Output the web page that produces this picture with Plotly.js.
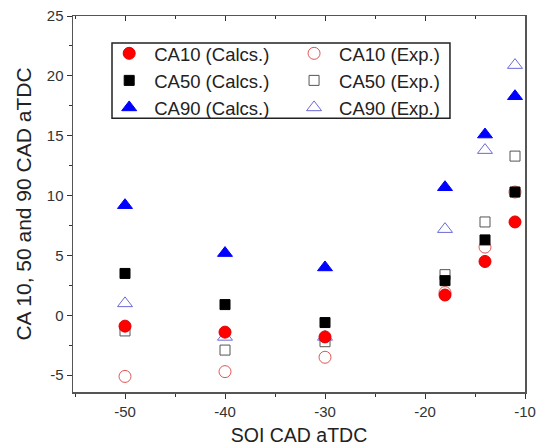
<!DOCTYPE html>
<html>
<head>
<meta charset="utf-8">
<script src="https://cdn.plot.ly/plotly-3.0.1.min.js"></script>
<style>
  html, body { margin: 0; padding: 0; background: #fff; }
  #chart { width: 537px; height: 447px; }
</style>
</head>
<body>
<div id="chart"></div>
<script>
// Start of injection, CAD aTDC
const soi = [-50, -40, -30, -18, -14, -11];

// Calculated combustion phasing
const ca10Calc = [-0.9, -1.4, -1.8, 1.7, 4.5, 7.8];
const ca50Calc = [3.5, 0.9, -0.6, 2.9, 6.3, 10.3];
const ca90Calc = [9.2, 5.2, 4.0, 10.7, 15.1, 18.3];

// Measured combustion phasing
const ca10Exp = [-5.1, -4.7, -3.5, 1.9, 5.7, 10.3];
const ca50Exp = [-1.3, -2.9, -2.2, 3.4, 7.8, 13.3];
const ca90Exp = [1.0, -1.8, -1.8, 7.2, 13.8, 20.9];

const xTicks = [-50, -40, -30, -20, -10];
const yTicks = [-5, 0, 5, 10, 15, 20, 25];

function series(name, y, symbol, color, size, rank, legendId, lineColor) {
  return {
    type: 'scatter', mode: 'markers', name: name,
    x: soi, y: y, legendrank: rank, legend: legendId,
    marker: {
      symbol: symbol, size: size, color: color,
      line: { width: 1, color: lineColor || color }
    }
  };
}

// Measured points first so the calculated ones sit on top.
// Calculated series go in the left legend column, measured in the right.
const traces = [
  series('CA10 (Exp.)', ca10Exp, 'circle-open', '#e05555', 12, 1, 'legend2'),
  series('CA50 (Exp.)', ca50Exp, 'square-open', '#555555', 10, 2, 'legend2'),
  series('CA90 (Exp.)', ca90Exp, 'triangle-up-open', '#6a6ad6', 13, 3, 'legend2'),
  series('CA10 (Calcs.)', ca10Calc, 'circle', '#ff0000', 12, 1, 'legend', '#e00000'),
  series('CA50 (Calcs.)', ca50Calc, 'square', '#000000', 10, 2, 'legend'),
  series('CA90 (Calcs.)', ca90Calc, 'triangle-up', '#0000ff', 13, 3, 'legend')
];

// Invisible trace that carries the inward ticks along the top edge
traces.push({
  type: 'scatter', mode: 'markers', x: [soi[0]], y: [0], xaxis: 'x2',
  marker: { opacity: 0 }, showlegend: false, hoverinfo: 'skip'
});

const axisFont = { family: 'Liberation Sans, Arial, sans-serif', size: 15, color: '#333' };

function legendColumn(x) {
  return {
    orientation: 'v', x: x, y: 0.95, xanchor: 'left', yanchor: 'top',
    bgcolor: 'rgba(0,0,0,0)', borderwidth: 0, itemwidth: 40,
    font: { size: 18.5, color: '#222' }, itemsizing: 'trace'
  };
}

const layout = {
  width: 537, height: 447,
  margin: { l: 73, r: 12, t: 16, b: 55 },
  paper_bgcolor: '#fff', plot_bgcolor: '#fff',
  font: { family: 'Liberation Sans, Arial, sans-serif', color: '#222' },
  showlegend: true,
  legend: legendColumn(0.069),
  legend2: legendColumn(0.478),
  // frame around both legend columns
  shapes: [{
    type: 'rect', xref: 'paper', yref: 'paper',
    x0: 0.0863, x1: 0.834, y0: 0.728, y1: 0.928,
    line: { color: '#222', width: 1.5 }, fillcolor: 'rgba(0,0,0,0)', layer: 'above'
  }],
  xaxis: {
    range: [-55.2, -10], tickvals: xTicks, ticktext: xTicks.map(String),
    ticks: 'outside', ticklen: 5, tickwidth: 1, tickcolor: '#333',
    minor: { dtick: 5, ticks: 'outside', ticklen: 3, tickcolor: '#333' },
    showline: true, linecolor: '#555', linewidth: 1.5, mirror: true,
    showgrid: false, zeroline: false, tickfont: axisFont,
    title: { text: 'SOI CAD aTDC', font: { size: 19.5, color: '#222' }, standoff: 10 }
  },
  xaxis2: {
    overlaying: 'x', side: 'top', matches: 'x', range: [-55.2, -10],
    tickvals: xTicks, showticklabels: false,
    ticks: 'inside', ticklen: 5, tickwidth: 1, tickcolor: '#333',
    minor: { dtick: 5, ticks: 'inside', ticklen: 3, tickcolor: '#333' },
    showgrid: false, zeroline: false, showline: false
  },
  yaxis: {
    range: [-6.4, 25], tickvals: yTicks, ticktext: yTicks.map(String),
    ticks: 'outside', ticklen: 5, tickwidth: 1, tickcolor: '#333',
    minor: { dtick: 2.5, ticks: 'outside', ticklen: 3, tickcolor: '#333' },
    showline: true, linecolor: '#555', linewidth: 1.5, mirror: true,
    showgrid: false, zeroline: false, tickfont: axisFont,
    title: { text: 'CA 10, 50 and 90 CAD aTDC', font: { size: 21, color: '#222' }, standoff: 9 }
  }
};

Plotly.newPlot('chart', traces, layout, { staticPlot: true, displayModeBar: false });
</script>
</body>
</html>
